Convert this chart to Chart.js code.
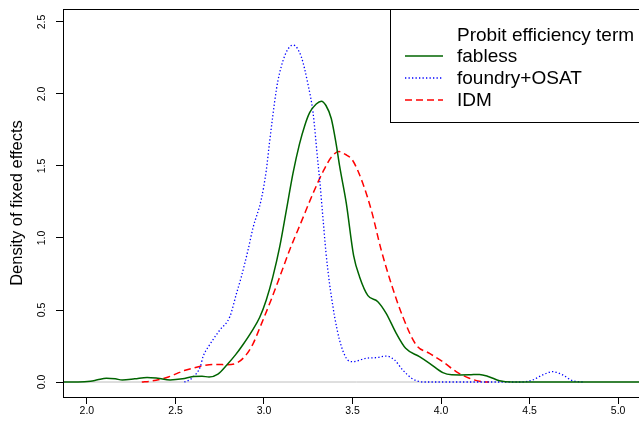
<!DOCTYPE html>
<html>
<head>
<meta charset="utf-8">
<script src="https://cdn.jsdelivr.net/npm/chart.js@4/dist/chart.umd.min.js"></script>
<style>
html,body{margin:0;padding:0;overflow:hidden;background:#fff;width:639px;height:426px;}
canvas{position:absolute;left:0;top:0;}
</style>
</head>
<body>
<canvas id="c" width="660" height="426"></canvas>
<script>
// ---- data ----
const legendTitle = "Probit efficiency term";
const yTitle = "Density of fixed effects";
const seriesNames = ["fabless", "foundry+OSAT", "IDM"];

const fablessX = [1.865,1.95,2.02,2.06,2.11,2.16,2.20,2.27,2.34,2.40,2.47,2.54,2.60,2.65,2.69,2.74,2.79,2.84,2.88,2.93,2.976,3.013,3.05,3.089,3.126,3.164,3.20,3.23,3.258,3.295,3.324,3.35,3.38,3.408,3.427,3.465,3.506,3.54,3.587,3.643,3.69,3.747,3.80,3.878,3.935,4.01,4.06,4.104,4.16,4.217,4.27,4.33,4.40,4.6,5.0,5.2];
const fablessY = [0,0,0.005,0.015,0.026,0.022,0.014,0.022,0.032,0.026,0.014,0.022,0.038,0.04,0.035,0.055,0.118,0.19,0.257,0.35,0.45,0.57,0.73,0.94,1.19,1.45,1.65,1.78,1.87,1.93,1.95,1.92,1.83,1.65,1.50,1.24,0.88,0.73,0.60,0.558,0.477,0.338,0.234,0.176,0.13,0.065,0.05,0.049,0.05,0.053,0.037,0.009,0,0,0,0];

const foundryX = [2.55,2.58,2.60,2.64,2.656,2.694,2.75,2.807,2.845,2.872,2.91,2.938,2.985,3.013,3.03,3.05,3.07,3.089,3.126,3.164,3.21,3.248,3.277,3.305,3.314,3.333,3.35,3.37,3.38,3.399,3.427,3.465,3.50,3.577,3.64,3.69,3.737,3.784,3.83,3.86,3.90,4.2,4.45,4.517,4.574,4.63,4.687,4.743,4.80];
const foundryY = [0,0.015,0.035,0.105,0.176,0.26,0.36,0.453,0.616,0.73,0.917,1.07,1.27,1.47,1.65,1.85,2.03,2.15,2.29,2.34,2.26,2.07,1.87,1.52,1.41,1.14,0.90,0.685,0.60,0.453,0.29,0.165,0.141,0.165,0.17,0.18,0.153,0.083,0.03,0.01,0,0,0,0.014,0.049,0.072,0.049,0.009,0];

const idmX = [2.31,2.36,2.41,2.46,2.51,2.55,2.60,2.65,2.69,2.74,2.79,2.85,2.90,2.94,2.976,3.04,3.089,3.145,3.21,3.277,3.333,3.38,3.423,3.46,3.50,3.558,3.606,3.662,3.718,3.784,3.86,3.935,4.01,4.085,4.16,4.235,4.27];
const idmY = [0,0.006,0.018,0.035,0.06,0.08,0.097,0.112,0.12,0.122,0.12,0.134,0.19,0.27,0.375,0.57,0.73,0.917,1.11,1.31,1.46,1.56,1.60,1.58,1.54,1.38,1.194,0.917,0.685,0.453,0.257,0.199,0.141,0.072,0.026,0.002,0];

const zeroLineX = [1.8, 5.3];
const zeroLineY = [0, 0];

const xTicks = [2.0, 2.5, 3.0, 3.5, 4.0, 4.5, 5.0];
const yTicks = [0.0, 0.5, 1.0, 1.5, 2.0, 2.5];

// ---- build ----
const pts = (xs, ys) => xs.map((x, i) => ({x: x, y: ys[i]}));
const FONT = "'Liberation Sans', Arial, Helvetica, sans-serif";

const boxPlugin = {
  id: 'box',
  afterDraw(chart) {
    const {ctx, chartArea: a} = chart;
    ctx.save();
    ctx.strokeStyle = '#000';
    ctx.lineWidth = 1;
    ctx.strokeRect(Math.round(a.left) + 0.5, Math.round(a.top) + 0.5, Math.round(a.right - a.left), Math.round(a.bottom - a.top));
    // rotated y tick labels
    const ys = chart.scales.y;
    ctx.fillStyle = '#000';
    ctx.font = '10.5px ' + FONT;
    ctx.textAlign = 'center';
    ctx.textBaseline = 'middle';
    ys.ticks.forEach(t => {
      const py = ys.getPixelForValue(t.value);
      ctx.save();
      ctx.translate(42, py);
      ctx.rotate(-Math.PI / 2);
      ctx.fillText(t.value.toFixed(1), 0, 0);
      ctx.restore();
    });
    // legend
    const L = 390, T = Math.round(a.top), B = 122;
    ctx.fillStyle = '#fff';
    ctx.fillRect(L, T, a.right - L, B - T);
    ctx.strokeStyle = '#000';
    ctx.strokeRect(L + 0.5, T + 0.5, a.right - L, B - T);
    ctx.fillStyle = '#000';
    ctx.font = '19px ' + FONT;
    ctx.textAlign = 'left';
    ctx.textBaseline = 'middle';
    ctx.fillText(legendTitle, 457, 36);
    const items = chart.data.datasets.filter(d => d.label);
    items.forEach((d, i) => {
      const y = 56 + i * 22;
      ctx.save();
      ctx.strokeStyle = d.borderColor;
      ctx.lineWidth = d.borderWidth;
      ctx.setLineDash(d.borderDash || []);
      ctx.beginPath();
      ctx.moveTo(405, y);
      ctx.lineTo(443, y);
      ctx.stroke();
      ctx.restore();
      ctx.fillStyle = '#000';
      ctx.fillText(d.label, 457, y + 1);
    });
    ctx.restore();
  }
};

new Chart(document.getElementById('c'), {
  type: 'line',
  data: {
    datasets: [
      {label: seriesNames[0], data: pts(fablessX, fablessY), borderColor: '#006400', borderWidth: 1.5, borderDash: [], cubicInterpolationMode: 'monotone'},
      {label: seriesNames[1], data: pts(foundryX, foundryY), borderColor: '#0000ff', borderWidth: 1.3, borderDash: [1.3, 2.2], cubicInterpolationMode: 'monotone'},
      {label: seriesNames[2], data: pts(idmX, idmY), borderColor: '#ff0000', borderWidth: 1.5, borderDash: [7, 4], cubicInterpolationMode: 'monotone'},
      {label: '', data: pts(zeroLineX, zeroLineY), borderColor: '#bebebe', borderWidth: 1}
    ]
  },
  options: {
    responsive: false,
    animation: false,
    devicePixelRatio: 1,
    layout: {padding: {top: 9, left: 0, right: 10, bottom: 0}},
    elements: {point: {radius: 0}, line: {fill: false}},
    plugins: {legend: {display: false}, tooltip: {enabled: false}},
    scales: {
      x: {
        type: 'linear',
        min: 1.865, max: 5.18,
        afterFit(s) { s.height = 29; },
        afterBuildTicks(s) { s.ticks = xTicks.map(v => ({value: v})); },
        grid: {display: true, drawOnChartArea: false, drawTicks: true, tickLength: 7, color: '#000'},
        border: {display: true, color: '#000', width: 1},
        ticks: {color: '#000', padding: 1, font: {size: 10.5, family: FONT}, maxRotation: 0, minRotation: 0, callback: v => Number(v).toFixed(1)}
      },
      y: {
        type: 'linear',
        min: -0.104, max: 2.59,
        afterFit(s) { s.width = 63; },
        afterBuildTicks(s) { s.ticks = yTicks.map(v => ({value: v})); },
        grid: {display: true, drawOnChartArea: false, drawTicks: true, tickLength: 7, color: '#000'},
        border: {display: true, color: '#000', width: 1},
        ticks: {display: false},
        title: {display: true, text: yTitle, color: '#000', font: {size: 16.5, family: FONT}, padding: {top: 8, bottom: 0}}
      }
    }
  },
  plugins: [boxPlugin]
});
</script>
</body>
</html>
